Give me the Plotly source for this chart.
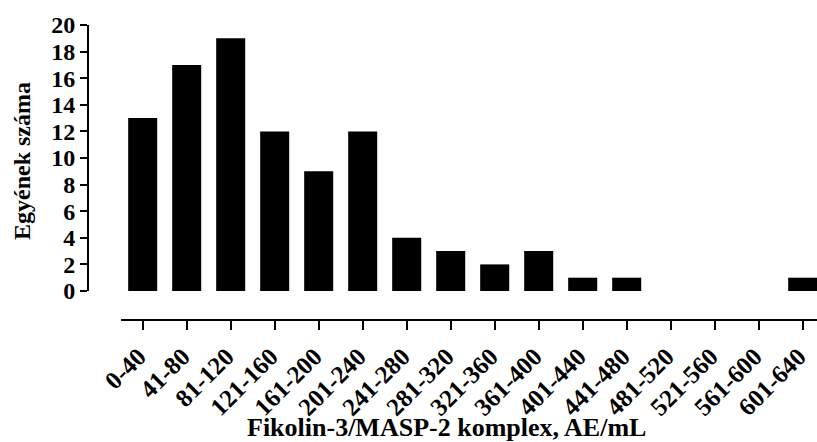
import plotly.graph_objects as go

categories = ["0-40", "41-80", "81-120", "121-160", "161-200", "201-240", "241-280",
              "281-320", "321-360", "361-400", "401-440", "441-480", "481-520",
              "521-560", "561-600", "601-640"]
counts = [13, 17, 19, 12, 9, 12, 4, 3, 2, 3, 1, 1, 0, 0, 0, 1]
y_ticks = [0, 2, 4, 6, 8, 10, 12, 14, 16, 18, 20]

FONT = "Liberation Serif, Times New Roman, serif"

W, H = 817, 442
L, R, T, B = 88, 0, 25, 122
pw, ph = W - L - R, H - T - B

fig = go.Figure(go.Bar(
    x=list(range(len(categories))), y=counts,
    marker=dict(color="black", line=dict(width=0)),
    width=0.66,
))

fig.update_layout(
    width=W, height=H,
    margin=dict(l=L, r=R, t=T, b=B, autoexpand=False),
    plot_bgcolor="white", paper_bgcolor="white",
    showlegend=False,
    xaxis=dict(
        domain=[(121 - L) / pw, 1],
        range=[-0.493, 15.325],
        anchor="free", position=0, automargin=False,
        tickmode="array", tickvals=list(range(len(categories))), ticktext=categories,
        tickangle=-45, ticklabelshift=-4, ticklabelstandoff=2,
        ticks="outside", ticklen=9, tickwidth=2, tickcolor="black",
        showline=True, linecolor="black", linewidth=2,
        showgrid=False, zeroline=False,
        tickfont=dict(family=FONT, size=25, color="black", weight="bold"),
    ),
    yaxis=dict(
        domain=[(320 - 291) / ph, 1],
        range=[0, 20],
        anchor="free", position=0, automargin=False,
        tickmode="array", tickvals=y_ticks,
        ticks="outside", ticklen=7, tickwidth=2, tickcolor="black",
        showline=True, linecolor="black", linewidth=2,
        showgrid=False, zeroline=False,
        tickfont=dict(family=FONT, size=24, color="black", weight="bold"),
    ),
    annotations=[
        dict(text="Fikolin-3/MASP-2 komplex, AE/mL", xref="paper", yref="paper",
             x=(446 - L) / pw, y=(H - B - 427) / ph, xanchor="center", yanchor="middle",
             showarrow=False,
             font=dict(family=FONT, size=26, color="black", weight="bold")),
        dict(text="Egyének száma", xref="paper", yref="paper",
             x=(22 - L) / pw, y=(H - B - 161) / ph, xanchor="center", yanchor="middle",
             textangle=-90, showarrow=False,
             font=dict(family=FONT, size=24, color="black", weight="bold")),
    ],
)

fig.write_html("out.html", config={"displayModeBar": False},
               post_script="document.body.style.margin='0';")
